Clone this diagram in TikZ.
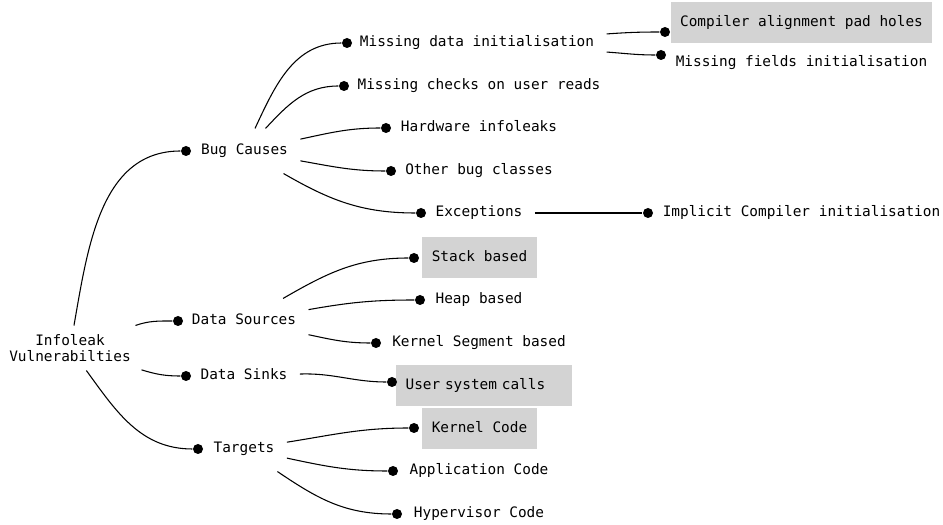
\documentclass[tikz,border=0pt]{standalone}
\usepackage{fontspec}
\newfontfamily\dvmono{DejaVu Sans Mono}
\usepackage{tikz}
\usetikzlibrary{shapes,arrows}
\definecolor{boxgray}{RGB}{211,211,211}

\begin{document}
\begin{tikzpicture}[x=0.75pt,y=0.75pt,line width=0.8pt,
  every node/.style={font=\dvmono\fontsize{10.8}{12}\selectfont},
  topic/.style={inner xsep=9pt,minimum height=33pt,text height=8pt,text depth=2.5pt},
  leaf/.style={fill=boxgray,inner xsep=7.2pt,minimum height=30.75pt,text height=8pt,text depth=2.5pt},
  dot/.style={circle,fill=black,inner sep=0pt,minimum size=7.5pt}]
\useasboundingbox (0,0) rectangle (943,525);
\node[align=center,minimum width=106.5pt,minimum height=33pt] (root) at (70,177) {Infoleak\\Vulnerabilties};
\node[topic] (bug) at (244.5,374) {Bug Causes};
\node[dot] (bugdot) at (186,374) {};
\node[topic] (src) at (244,204) {Data Sources};
\node[dot] (srcdot) at (178,204) {};
\node[topic] (sink) at (244,149) {Data Sinks};
\node[dot] (sinkdot) at (186,149) {};
\node[topic] (tgt) at (244,76) {Targets};
\node[dot] (tgtdot) at (198,76) {};
\node[topic] (mdi) at (477,482) {Missing data initialisation};
\node[dot] (mdidot) at (347,482) {};
\node[topic] (mcr) at (479,439) {Missing checks on user reads};
\node[dot] (mcrdot) at (344,439) {};
\node[topic] (hw) at (479,397) {Hardware infoleaks};
\node[dot] (hwdot) at (386,397) {};
\node[topic] (oth) at (479,354) {Other bug classes};
\node[dot] (othdot) at (391,354) {};
\node[topic] (exc) at (479,312) {Exceptions};
\node[dot] (excdot) at (421,312) {};
\node[leaf] (stk) at (479.5,267) {Stack based};
\node[dot] (stkdot) at (414,267) {};
\node[topic] (heap) at (479,225) {Heap based};
\node[dot] (heapdot) at (420,225) {};
\node[topic] (kseg) at (479,182) {Kernel Segment based};
\node[dot] (ksegdot) at (376,182) {};
\node[leaf,text width=117.6pt,align=left] (usc) at (484,139.5) {User system calls};
\node[dot] (uscdot) at (392,143) {};
\node[leaf] (kcode) at (479.5,96.5) {Kernel Code};
\node[dot] (kcodedot) at (414,97) {};
\node[topic] (app) at (479,54) {Application Code};
\node[dot] (appdot) at (393,54) {};
\node[topic] (hyp) at (479,11) {Hypervisor Code};
\node[dot] (hypdot) at (397,11) {};
\node[leaf] (cap) at (801.5,502) {Compiler alignment pad holes};
\node[dot] (capdot) at (665,493) {};
\node[topic] (mfi) at (801.5,462) {Missing fields initialisation};
\node[dot] (mfidot) at (661,470) {};
\node[topic] (ici) at (801.5,312) {Implicit Compiler initialisation};
\node[dot] (icidot) at (648,312) {};
\path
  (root) edge[out=80,in=180] (bugdot)
  (root) edge[out=19,in=180] (srcdot)
  (root) edge[out=-17,in=180] (sinkdot)
  (root) edge[out=-54,in=180] (tgtdot)
  (bug) edge[out=65,in=180] (mdidot)
  (bug) edge[out=47,in=180] (mcrdot)
  (bug) edge[out=12,in=180] (hwdot)
  (bug) edge[out=-10,in=180] (othdot)
  (bug) edge[out=-30,in=180] (excdot)
  (src) edge[out=30,in=180] (stkdot)
  (src) edge[out=10,in=180] (heapdot)
  (src) edge[out=-12,in=180] (ksegdot)
  (sink) edge[out=2,in=180] (uscdot)
  (tgt) edge[out=9,in=180] (kcodedot)
  (tgt) edge[out=-12,in=180] (appdot)
  (tgt) edge[out=-34,in=180] (hypdot)
  (mdi) edge[out=4,in=180] (capdot)
  (mdi) edge[out=-4,in=180] (mfidot)
  (exc) edge (icidot)
;
\end{tikzpicture}
\end{document}
